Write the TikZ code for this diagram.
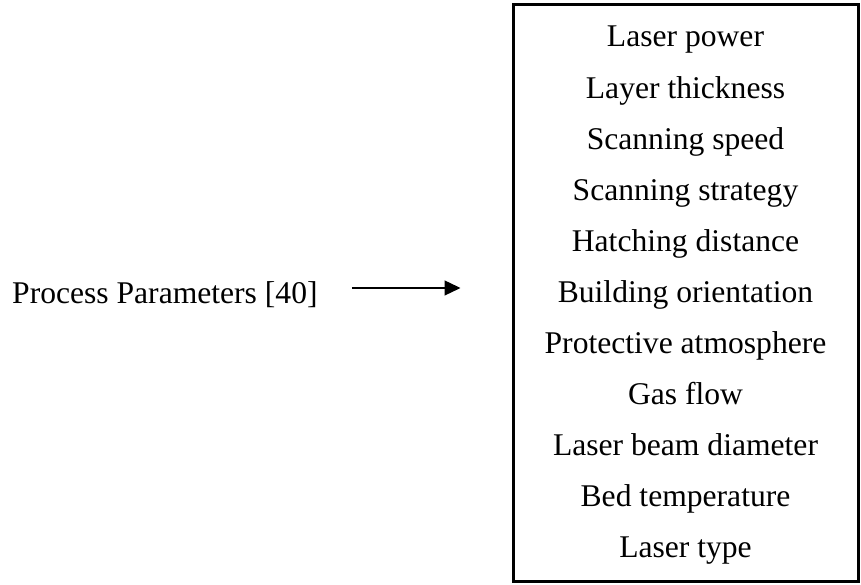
\documentclass[tikz,border=0pt]{standalone}
\usepackage{fontspec}
\setmainfont{Liberation Serif}
\usetikzlibrary{arrows.meta,positioning}

\begin{document}
\begin{tikzpicture}[x=1pt, y=1pt, every node/.style={font=\fontsize{31.6}{38}\selectfont, inner sep=0pt}]
                    \useasboundingbox (0,0) rectangle (861,585);
                    % Parameter box
                    \node[draw, line width=3pt, minimum width=345pt, minimum height=577pt] (box) at (685.5,291.5) {};
                    % Parameters
                    \foreach \txt [count=\i] in {Laser power, Layer thickness, Scanning speed, Scanning strategy, Hatching distance, Building orientation, Protective atmosphere, Gas flow, Laser beam diameter, Bed temperature, Laser type}
                        \node[anchor=base] (p\i) at (685.5,{538-(\i-1)*51.1}) {\txt};
                    % Label
                    \node[anchor=base west] (label) at (12,281) {Process Parameters [40]};
                    % arrow
                    \coordinate (tail) at ([shift={(34,16)}]label.base east);
                    \coordinate (head) at (box.west |- tail);
                    \draw[-{Triangle[length=16pt,width=15pt]}, line width=1.3pt] (tail) -- ([xshift=-51pt]head);
                \end{tikzpicture}
\end{document}
